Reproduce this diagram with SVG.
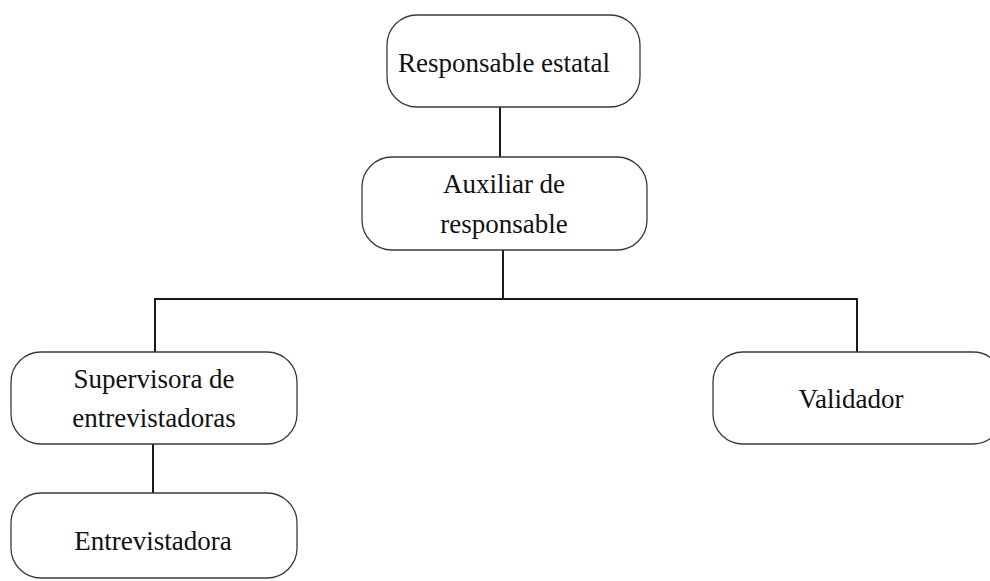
<svg xmlns="http://www.w3.org/2000/svg" width="990" height="581" viewBox="0 0 990 581">
<style>
.box{fill:#fff;stroke:#3a3a3a;stroke-width:1.3}
.t{font-family:"Liberation Serif","DejaVu Serif",serif;font-size:27px;fill:#111;text-anchor:middle}
.c{stroke:#1a1a1a;stroke-width:2;fill:none}
</style>
<rect width="990" height="581" fill="#fff"/>
<g id="connectors">
<line class="c" x1="500" y1="107" x2="500" y2="157"/>
<line class="c" x1="503" y1="250" x2="503" y2="299"/>
<polyline class="c" points="155,352 155,299 857,299 857,352"/>
<line class="c" x1="153" y1="444" x2="153" y2="493"/>
</g>
<g id="n1"><rect class="box" x="387" y="15" width="253" height="92" rx="30"/><text class="t" x="504" y="72">Responsable estatal</text></g>
<g id="n2"><rect class="box" x="362" y="157" width="285" height="93" rx="30"/><text class="t" x="504" y="193">Auxiliar de</text><text class="t" x="504" y="233">responsable</text></g>
<g id="n3"><rect class="box" x="11" y="352" width="286" height="92" rx="30"/><text class="t" x="154" y="388">Supervisora de</text><text class="t" x="154" y="427">entrevistadoras</text></g>
<g id="n4"><rect class="box" x="11" y="493" width="286" height="85" rx="30"/><text class="t" x="153" y="550">Entrevistadora</text></g>
<g id="n5"><rect class="box" x="713" y="352" width="290" height="92" rx="30"/><text class="t" x="851" y="408">Validador</text></g>
</svg>
